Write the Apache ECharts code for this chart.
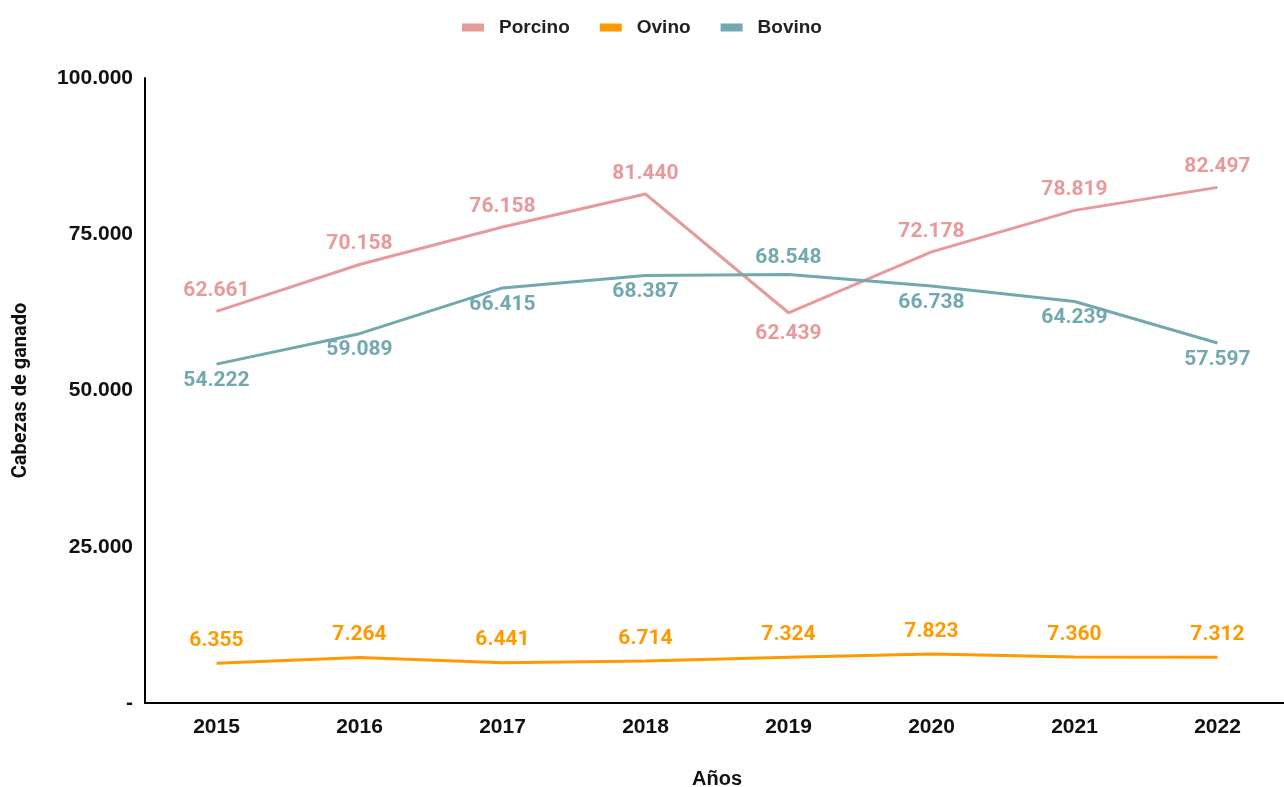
<!DOCTYPE html>
<html>
<head>
<meta charset="utf-8">
<script src="https://cdn.jsdelivr.net/npm/echarts@6/dist/echarts.min.js"></script>
<style>html,body{margin:0;padding:0;background:#fff}#c{width:1284px;height:787px}</style>
</head>
<body>
<div id="c"></div>
<script>
const years = ['2015','2016','2017','2018','2019','2020','2021','2022'];
const porcino = [62661, 70158, 76158, 81440, 62439, 72178, 78819, 82497];
const ovino = [6355, 7264, 6441, 6714, 7324, 7823, 7360, 7312];
const bovino = [54222, 59089, 66415, 68387, 68548, 66738, 64239, 57597];
const yTicks = [0, 25000, 50000, 75000, 100000];

const fmt = v => v === 0 ? '-' : String(v).replace(/\B(?=(\d{3})+(?!\d))/g, '.');

function mk(name, vals, color, defPos, flipIdx, dist) {
  return {
    name, type: 'line', symbol: 'circle', symbolSize: 0.01, showSymbol: true,
    lineStyle: { color, width: 3 }, itemStyle: { color },
    data: vals.map((v, i) => ({
      value: v,
      label: {
        show: true,
        position: (flipIdx.indexOf(i) >= 0) ? (defPos === 'top' ? 'bottom' : 'top') : defPos,
        distance: dist,
        formatter: p => fmt(p.value),
        color, fontFamily: 'Roboto', fontWeight: 'bold', fontSize: 21
      }
    })),
    emphasis: { disabled: true }
  };
}

const chart = echarts.init(document.getElementById('c'));
chart.setOption({
  animation: false,
  legend: {
    top: 13, left: 'center', itemWidth: 22, itemHeight: 8, itemGap: 30,
    icon: 'rect',
    textStyle: { fontFamily: '"Liberation Sans", Arial', fontWeight: 'bold', fontSize: 19, color: '#222', padding: [0, 0, 0, 10] },
    data: ['Porcino', 'Ovino', 'Bovino']
  },
  grid: { left: 145, right: -5, top: 78, bottom: 84, containLabel: false, outerBoundsMode: 'none' },
  xAxis: {
    type: 'category', data: years, boundaryGap: true,
    axisLine: { lineStyle: { color: '#000', width: 2 } },
    axisTick: { show: false },
    axisLabel: { margin: 14, fontFamily: '"Liberation Sans", Arial', fontWeight: 'bold', fontSize: 21, color: '#111' },
    name: 'Años', nameLocation: 'middle', nameGap: 66,
    nameTextStyle: { fontFamily: '"Liberation Sans", Arial', fontWeight: 'bold', fontSize: 20, color: '#111' }
  },
  yAxis: {
    type: 'value', min: yTicks[0], max: yTicks[yTicks.length - 1], interval: 25000,
    axisLine: { show: true, lineStyle: { color: '#000', width: 2 } },
    axisTick: { show: false },
    splitLine: { show: false },
    axisLabel: { margin: 12, formatter: v => fmt(v), fontFamily: '"Liberation Sans", Arial', fontWeight: 'bold', fontSize: 21, color: '#111' },
    name: 'Cabezas de ganado', nameLocation: 'middle', nameGap: 114, nameRotate: 90,
    nameTextStyle: { fontFamily: 'Roboto', fontWeight: 'bold', fontSize: 20, color: '#111' }
  },
  series: [
    mk('Porcino', porcino, '#E8999A', 'top', [4], 10),
    mk('Ovino', ovino, '#FF9900', 'top', [], 12),
    mk('Bovino', bovino, '#72A8B0', 'bottom', [4], 6)
  ]
});
</script>
</body>
</html>
